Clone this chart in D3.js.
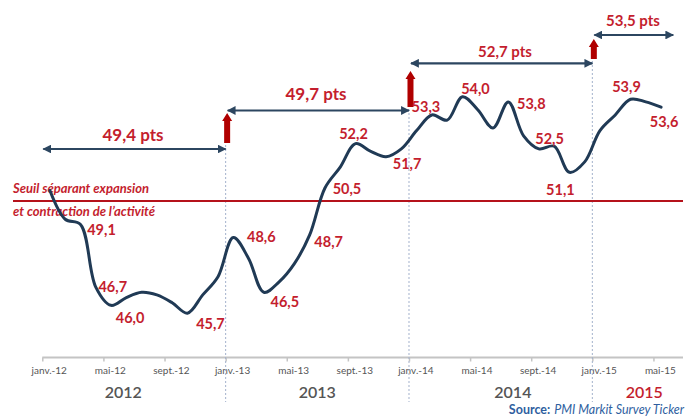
<!DOCTYPE html>
<html><head><meta charset="utf-8">
<script src="https://cdn.jsdelivr.net/npm/d3@7"></script>
<style>body{margin:0;background:#fff}svg{display:block}</style>
</head><body>
<svg id="c" width="686" height="416"></svg>
<script>
// ---- data ----
const tickLabels = ["janv.-12","mai-12","sept.-12","janv.-13","mai-13","sept.-13","janv.-14","mai-14","sept.-14","janv.-15","mai-15"];
const tickMonths = [0,4,8,12,16,20,24,28,32,36,40];
const pmi2012 = [50.4,49.3,49.1,46.7,46.0,46.3,46.5,46.4,46.1,45.7,46.4,47.1];
const pmi2013 = [48.6,47.8,46.5,46.9,47.6,48.7,50.5,51.3,52.2,51.9,51.7,52.0];
const pmi2014 = [52.7,53.3,53.1,54.0,53.5,52.8,53.8,52.5,52.0,52.1,51.1,51.5];
const pmi2015 = [52.7,53.3,53.9,53.8,53.6];
const labeledMonths = [2,3,4,9,12,14,17,18,20,22,25,27,30,31,34,38,40];
const years = ["2012","2013","2014","2015"];
const avgLabels = ["49,4 pts","49,7 pts","52,7 pts","53,5 pts"];
const threshold = 50;
const thresholdText = ["Seuil séparant expansion","et contraction de l\u2019activité"];
const sourceText = ["Source:","PMI Markit Survey Ticker"];

// ---- layout (not data) ----
const labelOffsets = {2:[21,11],3:[17,5],4:[19,18],9:[23,16],12:[28,4],14:[21,15],17:[19,12],18:[22,6],
  20:[-2,-5],22:[21,12],25:[-6,-3],27:[13,-3],30:[23,7],31:[26,8],34:[-9,23],38:[-4,-7],40:[3,20]};
const yearPos = [5.3,18,30.8,39.4];

const values = [...pmi2012,...pmi2013,...pmi2014,...pmi2015];
const svg = d3.select("#c");
const x = d3.scaleLinear().domain([0,42]).range([42.3,684]);
const y = d3.scaleLinear().domain([44,56]).range([357.5,44.5]);
const fmt = v => d3.format(".1f")(v).replace(".",",");
const RED = "#c41e2e", NAVY = "#2c4660", DARKRED = "#b00000";

// defs
const defs = svg.append("defs");
defs.append("marker").attr("id","ah").attr("viewBox","0 0 10 10").attr("refX",9).attr("refY",5)
  .attr("markerWidth",4).attr("markerHeight",4).attr("orient","auto-start-reverse")
  .append("path").attr("d","M0,0L10,5L0,10z").attr("fill",NAVY);

// x axis
const axisY = y(44);
svg.append("line").attr("x1",x(0)).attr("x2",x(42)-1).attr("y1",axisY).attr("y2",axisY)
  .attr("stroke","#c4c4c4").attr("stroke-width",2);
const ax = d3.axisBottom(x).tickValues(tickMonths).tickSize(4).tickFormat((d,i)=>tickLabels[i]);
const axg = svg.append("g").attr("transform",`translate(0,${axisY})`).call(ax);
axg.select(".domain").remove();
axg.selectAll(".tick line").attr("stroke","#c4c4c4").attr("stroke-width",1.5);
axg.selectAll(".tick text").attr("fill","#555").attr("font-family","Lato, 'Open Sans', sans-serif")
  .attr("font-size",10).attr("dx",6.4).attr("dy",9.5);

// year labels
svg.selectAll(".yr").data(years).enter().append("text")
  .attr("x",(d,i)=>x(yearPos[i])).attr("y",398).attr("text-anchor","middle")
  .attr("font-family","Lato, sans-serif").attr("font-size",16).attr("font-weight",600)
  .attr("fill",(d,i)=>i===3?RED:"#555").text(d=>d);

// source (two text runs, right-aligned to the edge)
const s2 = svg.append("text").attr("x",684).attr("y",413.5).attr("text-anchor","end")
  .attr("font-family","Lato, sans-serif").attr("font-size",12.5).attr("font-style","italic")
  .attr("fill","#2f5f9f").text(sourceText[1]);
const w2 = s2.node().getComputedTextLength();
svg.append("text").attr("x",684-w2-4).attr("y",413.5).attr("text-anchor","end")
  .attr("font-family","Lato, sans-serif").attr("font-size",12.5).attr("font-weight",700)
  .attr("fill","#2f5f9f").text(sourceText[0]);

// annotation geometry
const bounds = [12,24,36];
const arrowY = [149,110.5,63.3,35];
const redTop = [113,71,39], redBot = [143,107,59];
// dashed year separators
bounds.forEach((m,i)=>{
  svg.append("line").attr("x1",x(m)).attr("x2",x(m)).attr("y1",redBot[i]+2).attr("y2",402)
    .attr("stroke","#a3b2cc").attr("stroke-width",1).attr("stroke-dasharray","2,2");
});
// horizontal double arrows
const spans = [[x(0)+1,x(12)],[x(12)+2,x(24)],[x(24)+2,x(36)],[x(36)+2,x(41.3)]];
spans.forEach((s,i)=>{
  svg.append("line").attr("x1",s[0]).attr("x2",s[1]).attr("y1",arrowY[i]).attr("y2",arrowY[i])
    .attr("stroke",NAVY).attr("stroke-width",2.2)
    .attr("marker-start","url(#ah)").attr("marker-end","url(#ah)");
});
// avg labels
const avgX = [133,316,505,633], avgBase = [141,100,57,26], avgSize=[17,17,15,15];
svg.selectAll(".avg").data(avgLabels).enter().append("text")
  .attr("x",(d,i)=>avgX[i]).attr("y",(d,i)=>avgBase[i]).attr("text-anchor","middle")
  .attr("font-family","Lato, sans-serif").attr("font-weight",700).attr("font-size",(d,i)=>avgSize[i])
  .attr("fill",RED).text(d=>d);
// red up arrows
bounds.forEach((m,i)=>{
  const cx = x(m)+1.5, t = redTop[i], b = redBot[i], hw=5, sw=3, hh=8;
  svg.append("path").attr("d",`M${cx-sw},${b}L${cx-sw},${t+hh}L${cx-hw},${t+hh}L${cx},${t}L${cx+hw},${t+hh}L${cx+sw},${t+hh}L${cx+sw},${b}Z`)
    .attr("fill",DARKRED);
});

// threshold
svg.append("line").attr("x1",13).attr("x2",683).attr("y1",y(threshold)).attr("y2",y(threshold))
  .attr("stroke","#b5121b").attr("stroke-width",2);
svg.selectAll(".thr").data(thresholdText).enter().append("text")
  .attr("x",13).attr("y",(d,i)=>[193,216][i])
  .attr("font-family","Lato, sans-serif").attr("font-style","italic").attr("font-weight",700)
  .attr("font-size",13).attr("fill",RED).text(d=>d);

// line
const line = d3.line().x((d,i)=>x(i+0.5)).y(d=>y(d)).curve(d3.curveCatmullRom.alpha(0.5));
svg.append("path").datum(values).attr("d",line).attr("fill","none")
  .attr("stroke","#203a55").attr("stroke-width",3).attr("stroke-linejoin","round").attr("stroke-linecap","round");

// data labels
svg.selectAll(".lbl").data(labeledMonths).enter().append("text")
  .attr("x",m=>x(m+0.5)+labelOffsets[m][0]).attr("y",m=>y(values[m])+labelOffsets[m][1])
  .attr("text-anchor","middle").attr("font-family","Lato, sans-serif").attr("font-weight",700)
  .attr("font-size",14.5).attr("fill",RED).text(m=>fmt(values[m]));
</script>
</body></html>
